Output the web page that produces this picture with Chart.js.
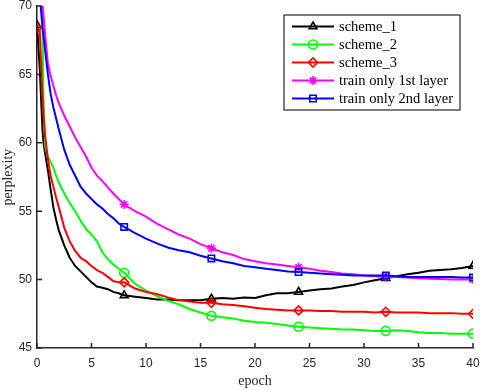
<!DOCTYPE html>
<html>
<head>
<meta charset="utf-8">
<script src="https://cdn.jsdelivr.net/npm/chart.js@4.4.1/dist/chart.umd.min.js"></script>
<style>
  html, body { margin: 0; padding: 0; background: #fff; }
</style>
</head>
<body>
<canvas id="chartPerplexity" width="482" height="390"></canvas>
<script>
const epochs = [0, 0.25, 0.5, 0.6, 0.75, 1, 1.25, 1.5, 1.75, 2, 2.5, 3, 3.5, 4, 4.5, 5, 5.5, 6, 6.5, 7, 7.5, 8,
  9, 10, 11, 12, 13, 14, 15, 16, 17, 18, 19, 20, 21, 22, 23, 24, 25, 26, 27, 28, 29, 30,
  31, 32, 33, 34, 35, 36, 37, 38, 39, 40];

const scheme1 = [68.6, 65.5, 61.0, 60.0, 59.2, 58.0, 56.6, 55.3, 54.4, 53.6, 52.5, 51.6, 51.0, 50.6, 50.2, 49.8, 49.5, 49.4, 49.3, 49.1, 49.0, 48.85,
  48.75, 48.65, 48.55, 48.55, 48.5, 48.5, 48.5, 48.6, 48.65, 48.6, 48.7, 48.65, 48.85, 49.0, 49.0, 49.1, 49.2, 49.3, 49.35, 49.5, 49.6, 49.8,
  49.95, 50.1, 50.25, 50.4, 50.5, 50.65, 50.7, 50.75, 50.85, 51.0];

const scheme2 = [85, 79, 68.5, 63.0, 59.7, 59.0, 58.6, 58.2, 57.6, 57.1, 56.3, 55.6, 55.0, 54.3, 53.7, 53.3, 52.8, 52.0, 51.5, 51.1, 50.8, 50.5,
  49.7, 49.2, 48.8, 48.45, 48.2, 47.85, 47.6, 47.35, 47.25, 47.15, 47.0, 46.9, 46.85, 46.75, 46.65, 46.55, 46.5, 46.45, 46.4, 46.35, 46.35, 46.3,
  46.25, 46.25, 46.3, 46.25, 46.15, 46.1, 46.1, 46.05, 46.05, 46.05];

const scheme3 = [68.4, 68.2, 63.5, 62.0, 60.5, 58.8, 57.6, 56.8, 56.0, 55.3, 53.8, 52.8, 52.1, 51.6, 51.35, 51.0, 50.7, 50.5, 50.2, 49.9, 49.8, 49.8,
  49.35, 49.1, 48.95, 48.7, 48.5, 48.4, 48.3, 48.3, 48.2, 48.15, 48.05, 47.95, 47.85, 47.8, 47.75, 47.75, 47.75, 47.7, 47.7, 47.65, 47.65, 47.65,
  47.6, 47.65, 47.6, 47.6, 47.6, 47.55, 47.55, 47.55, 47.5, 47.5];

const trainFirst = [76, 73, 70.3, 69.3, 67.9, 65.8, 64.9, 64.2, 63.5, 62.9, 62.0, 61.2, 60.4, 59.7, 59.0, 58.2, 57.6, 57.2, 56.75, 56.3, 55.9, 55.5,
  55.0, 54.6, 54.1, 53.7, 53.3, 53.0, 52.6, 52.3, 52.0, 51.8, 51.5, 51.35, 51.2, 51.1, 51.0, 50.9, 50.8, 50.65, 50.55, 50.45, 50.4, 50.3,
  50.25, 50.2, 50.2, 50.15, 50.1, 50.07, 50.05, 50.0, 50.0, 50.0];

const trainSecond = [72.5, 70.8, 68.5, 67.8, 66.7, 65.0, 63.6, 62.6, 61.8, 61.0, 59.5, 58.4, 57.6, 56.8, 56.3, 55.9, 55.5, 55.2, 54.8, 54.5, 54.1, 53.85,
  53.4, 53.0, 52.65, 52.35, 52.15, 52.0, 51.75, 51.55, 51.35, 51.2, 51.0, 50.9, 50.8, 50.7, 50.6, 50.55, 50.5, 50.45, 50.4, 50.35, 50.3, 50.3,
  50.3, 50.3, 50.25, 50.2, 50.2, 50.2, 50.2, 50.2, 50.15, 50.15];

const seriesNames = ['scheme_1', 'scheme_2', 'scheme_3', 'train only 1st layer', 'train only 2nd layer'];
const xTicks = [0, 5, 10, 15, 20, 25, 30, 35, 40];
const yTicks = [45, 50, 55, 60, 65, 70];
const markerEpochs = [0, 8, 16, 24, 32, 40];

const axisColor = '#262626';
const serif = '"Liberation Serif", "DejaVu Serif", serif';
const sans = '"Liberation Sans", Arial, sans-serif';

const styles = [
  { color: '#000000', marker: 'triangle' },
  { color: '#00ff00', marker: 'circle' },
  { color: '#ff0000', marker: 'rectRot' },
  { color: '#ff00ff', marker: 'star' },
  { color: '#0000ff', marker: 'rect' },
];

function series(values) {
  return epochs.map((e, i) => ({ x: e, y: values[i] }));
}

const allValues = [scheme1, scheme2, scheme3, trainFirst, trainSecond];

const datasets = allValues.map((vals, i) => ({
  label: seriesNames[i],
  data: series(vals),
  borderColor: styles[i].color,
  borderWidth: 2,
  tension: 0,
  pointStyle: styles[i].marker,
  pointRadius: ctx => markerEpochs.includes(epochs[ctx.dataIndex]) ? 4.5 : 0,
  pointBorderWidth: 1.6,
  pointBorderColor: styles[i].color,
  pointBackgroundColor: 'rgba(0,0,0,0)',
  order: 5 - i,
}));

// matlab style: ticks pointing into the plot, legend box inside the axes
const innerTicks = {
  id: 'innerTicks',
  afterDraw(chart) {
    const { ctx, chartArea: a, scales } = chart;
    ctx.save();
    ctx.strokeStyle = axisColor;
    ctx.lineWidth = 1.5;
    ctx.beginPath();
    xTicks.forEach(t => {
      const px = scales.x.getPixelForValue(t);
      ctx.moveTo(px, a.bottom);
      ctx.lineTo(px, a.bottom - 5);
    });
    yTicks.forEach(t => {
      const py = scales.y.getPixelForValue(t);
      ctx.moveTo(a.left, py);
      ctx.lineTo(a.left + 5, py);
    });
    ctx.stroke();
    ctx.restore();
  }
};

const boxLegend = {
  id: 'boxLegend',
  afterDatasetsDraw(chart) {
    const { ctx } = chart;
    const left = 284, top = 15, width = 176, height = 95;
    ctx.save();
    ctx.fillStyle = '#fff';
    ctx.fillRect(left, top, width, height);
    ctx.strokeStyle = axisColor;
    ctx.lineWidth = 1.2;
    ctx.strokeRect(left, top, width, height);
    ctx.font = '14.5px ' + serif;
    ctx.textBaseline = 'middle';
    chart.data.datasets.forEach((ds, i) => {
      const y = top + 11.5 + i * 18;
      ctx.strokeStyle = ds.borderColor;
      ctx.lineWidth = 2;
      ctx.beginPath();
      ctx.moveTo(left + 8, y);
      ctx.lineTo(left + 50, y);
      ctx.stroke();
      ctx.fillStyle = 'rgba(0,0,0,0)';
      ctx.lineWidth = 1.6;
      Chart.helpers.drawPoint(ctx, { pointStyle: ds.pointStyle, radius: 4.5, borderWidth: 1.6, rotation: 0 }, left + 29, y);
      ctx.fillStyle = '#000';
      ctx.fillText(ds.label, left + 55, y + 0.5);
    });
    ctx.restore();
  }
};

new Chart(document.getElementById('chartPerplexity'), {
  type: 'line',
  data: { datasets },
  plugins: [innerTicks, boxLegend],
  options: {
    responsive: false,
    animation: false,
    events: [],
    layout: { padding: { top: 5, right: 9, left: 0, bottom: 0 } },
    plugins: { legend: { display: false }, tooltip: { enabled: false } },
    scales: {
      x: {
        type: 'linear',
        min: 0,
        max: 40,
        afterBuildTicks: s => { s.ticks = xTicks.map(v => ({ value: v })); },
        afterFit: s => { s.height = 42; s.paddingLeft = 0; s.paddingRight = 0; },
        grid: { display: false, drawTicks: false },
        border: { display: true, color: axisColor, width: 1.5 },
        ticks: { color: '#262626', padding: 8, font: { family: sans, size: 12 } },
        title: { display: true, text: 'epoch', color: '#262626', padding: { top: 0, bottom: 0 }, font: { family: serif, size: 14 } },
      },
      y: {
        min: 45,
        max: 70,
        afterBuildTicks: s => { s.ticks = yTicks.map(v => ({ value: v })); },
        afterFit: s => { s.width = 37; s.paddingTop = 0; s.paddingBottom = 0; },
        grid: { display: false, drawTicks: false },
        border: { display: true, color: axisColor, width: 1.5 },
        ticks: { color: '#262626', padding: 5, font: { family: sans, size: 12 } },
        title: { display: true, text: 'perplexity', color: '#262626', padding: { top: 0, bottom: 0 }, font: { family: serif, size: 14 } },
      },
    },
  },
});
</script>
</body>
</html>
